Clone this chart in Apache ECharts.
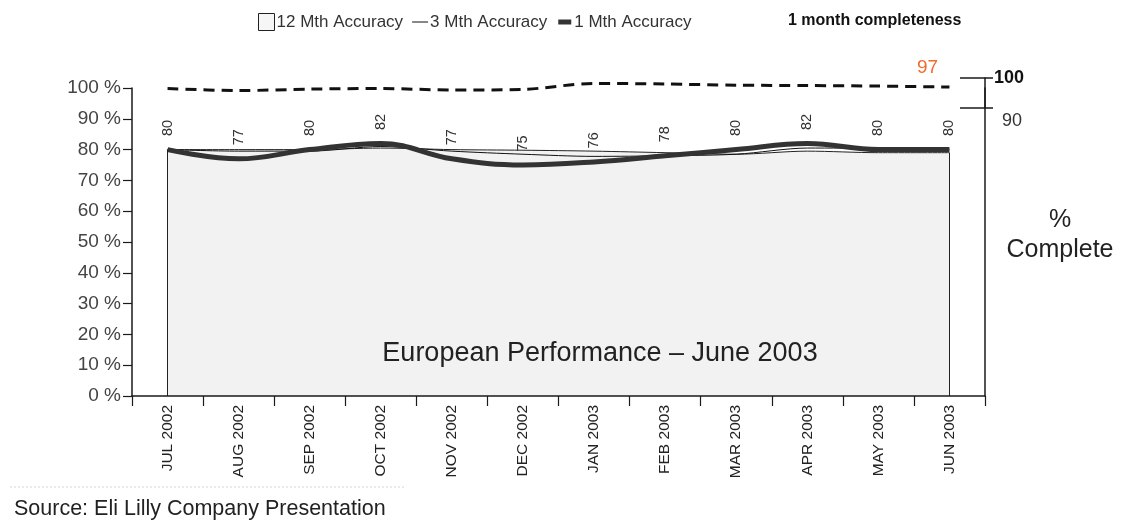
<!DOCTYPE html>
<html>
<head>
<meta charset="utf-8">
<title>European Performance – June 2003</title>
<script src="https://cdn.jsdelivr.net/npm/echarts@6/dist/echarts.min.js"></script>
<style>
  html, body { margin: 0; padding: 0; background: #ffffff; }
  #chart { width: 1121px; height: 520px; }
</style>
</head>
<body>
<div id="chart"></div>
<script>
// Months on the category axis
const months = ['JUL 2002', 'AUG 2002', 'SEP 2002', 'OCT 2002', 'NOV 2002', 'DEC 2002',
                'JAN 2003', 'FEB 2003', 'MAR 2003', 'APR 2003', 'MAY 2003', 'JUN 2003'];

// Forecast accuracy (%) by averaging window
const acc12 = [80, 80, 80, 80.5, 80, 79.8, 79.5, 79, 78.5, 79.5, 79, 79];
const acc3  = [80, 79.5, 79.5, 81, 79.5, 78.5, 77.8, 78, 78.5, 80.5, 80.5, 80];
const acc1  = [80, 77, 80, 82, 77, 75, 76, 78, 80, 82, 80, 80];

// 1 month completeness (%), right-hand scale
const completeness = [96.5, 95.8, 96.3, 96.5, 96, 96.2, 98.2, 98, 97.6, 97.5, 97.3, 97];

// Right-hand scale ticks
const completeTicks = [90, 100];

const FONT = "'Liberation Sans', Arial, sans-serif";
const INK = '#1a1a1a';
const CLEAR = 'rgba(0,0,0,0)';

const lastIdx = months.length - 1;

const chart = echarts.init(document.getElementById('chart'), null, { renderer: 'canvas' });

chart.setOption({
  animation: false,
  backgroundColor: '#ffffff',
  textStyle: { fontFamily: FONT },
  title: [
    {
      text: 'European Performance – June 2003',
      left: 595, top: 335, textAlign: 'center',
      textStyle: { fontFamily: FONT, fontSize: 27, fontWeight: 'normal', color: '#222' }
    },
    {
      text: '%\nComplete',
      left: 1055, top: 200, textAlign: 'center',
      textStyle: { fontFamily: FONT, fontSize: 25, fontWeight: 'normal', color: '#222', lineHeight: 30 }
    },
    {
      text: 'Source: Eli Lilly Company Presentation',
      left: 9, top: 493,
      textStyle: { fontFamily: FONT, fontSize: 21.5, fontWeight: 'normal', color: '#222' }
    }
  ],
  graphic: [
    {
      // faint rule above the source note
      type: 'line', silent: true,
      shape: { x1: 10, y1: 487, x2: 405, y2: 487 },
      style: { stroke: '#d6d6d6', lineWidth: 1, lineDash: [2, 2] }
    }
  ],
  legend: [
    {
      left: 258, top: 13, padding: 0,
      itemWidth: 16, itemHeight: 17, itemGap: 9,
      selectedMode: false,
      textStyle: { fontFamily: FONT, fontSize: 17, color: '#333', padding: [0, 0, 0, -3] },
      data: [
        { name: '12 Mth Accuracy', icon: 'rect',
          itemStyle: { color: '#f6f6f6', borderColor: '#222', borderWidth: 1, opacity: 1 } },
        { name: '3 Mth Accuracy', icon: 'path://M0,0M0,8H16V9H0ZM16,17',
          itemStyle: { color: '#111', borderWidth: 0, opacity: 1 } },
        { name: '1 Mth Accuracy', icon: 'path://M0,0M2,6H15V11H2ZM16,17',
          itemStyle: { color: '#333', borderWidth: 0, opacity: 1 } }
      ]
    },
    {
      left: 783, top: 13, padding: 0,
      itemWidth: 0, itemHeight: 14,
      selectedMode: false,
      textStyle: { fontFamily: FONT, fontSize: 16, fontWeight: 'bold', color: '#111' },
      data: [{ name: '1 month completeness', icon: 'none' }]
    }
  ],
  grid: [
    { left: 132, right: 136, top: 88, bottom: 124 },
    { left: 132, right: 136, top: 78, height: 30 }
  ],
  xAxis: [
    {
      type: 'category', gridIndex: 0, data: months, boundaryGap: true, z: 5,
      axisLine: { show: true, lineStyle: { color: INK, width: 1.5 } },
      axisTick: { show: true, alignWithLabel: false, length: 10, lineStyle: { color: INK, width: 1.2 } },
      axisLabel: { rotate: 90, margin: 9, fontFamily: FONT, fontSize: 15.5, color: '#222' },
      splitLine: { show: false }
    },
    {
      type: 'category', gridIndex: 1, data: months, boundaryGap: true, show: false
    }
  ],
  yAxis: [
    {
      type: 'value', gridIndex: 0, position: 'left', min: 0, max: 100, interval: 10, z: 5,
      axisLine: { show: true, lineStyle: { color: INK, width: 1.5 } },
      axisTick: { show: true, length: 9, lineStyle: { color: INK, width: 1.2 } },
      axisLabel: { formatter: '{value} %', margin: 11, fontFamily: FONT, fontSize: 19, color: '#444' },
      splitLine: { show: false }
    },
    {
      // right-hand frame line spanning the plot height
      type: 'value', gridIndex: 0, position: 'right', min: 0, max: 100, z: 5,
      axisLine: { show: true, lineStyle: { color: INK, width: 1.5 } },
      axisTick: { show: false }, axisLabel: { show: false }, splitLine: { show: false }
    },
    {
      // completeness scale, inner ticks and labels
      type: 'value', gridIndex: 1, position: 'right', min: 90, max: 100, interval: 10, z: 5,
      axisLine: { show: true, lineStyle: { color: INK, width: 1.5 } },
      axisTick: { show: true, inside: true, length: 25, lineStyle: { color: INK, width: 1.5 } },
      axisLabel: {
        margin: 9,
        formatter: function (v) {
          return completeTicks.indexOf(v) < 0 ? '' : (v === 100 ? '{top|' + v + '}' : '{low|' + v + '}');
        },
        rich: {
          top: { fontFamily: FONT, fontSize: 18, fontWeight: 'bold', color: '#111' },
          low: { fontFamily: FONT, fontSize: 18, color: '#333', padding: [27, 0, 0, 8] }
        }
      },
      splitLine: { show: false }
    },
    {
      // completeness scale, outer tick stubs
      type: 'value', gridIndex: 1, position: 'right', min: 90, max: 100, interval: 10, z: 5,
      axisLine: { show: false },
      axisTick: { show: true, inside: false, length: 8, lineStyle: { color: INK, width: 1.5 } },
      axisLabel: { show: false }, splitLine: { show: false }
    }
  ],
  series: [
    {
      name: '12 Mth Accuracy', type: 'line', xAxisIndex: 0, yAxisIndex: 0,
      data: acc12, smooth: 0.3, symbol: 'none', z: 1,
      lineStyle: { color: '#222', width: 1 },
      itemStyle: { color: '#f6f6f6', borderColor: '#222' },
      areaStyle: { color: '#f2f2f2', opacity: 1 },
      markLine: {
        silent: true, symbol: ['none', 'none'], label: { show: false },
        lineStyle: { color: '#222', width: 1, type: 'solid' },
        data: [
          [{ coord: [months[0], 0] }, { coord: [months[0], acc12[0]] }],
          [{ coord: [months[lastIdx], 0] }, { coord: [months[lastIdx], acc12[lastIdx]] }]
        ]
      }
    },
    {
      name: '3 Mth Accuracy', type: 'line', xAxisIndex: 0, yAxisIndex: 0,
      data: acc3, smooth: 0.3, symbol: 'none', z: 2,
      lineStyle: { color: '#111', width: 1 },
      itemStyle: { color: '#111' }
    },
    {
      name: '1 Mth Accuracy', type: 'line', xAxisIndex: 0, yAxisIndex: 0,
      data: acc1, smooth: 0.4, symbol: 'circle', symbolSize: 1, showSymbol: true, z: 3,
      lineStyle: { color: '#333', width: 5 },
      itemStyle: { color: CLEAR, borderWidth: 0 },
      label: {
        show: true, position: 'top', distance: 13, rotate: 90,
        align: 'left', verticalAlign: 'middle',
        fontFamily: FONT, fontSize: 14.5, color: '#333'
      }
    },
    {
      name: '1 month completeness', type: 'line', xAxisIndex: 1, yAxisIndex: 2,
      data: completeness, smooth: 0.3, symbol: 'circle', symbolSize: 1, z: 3,
      lineStyle: { color: '#111', width: 3, type: [11, 7] },
      itemStyle: { color: CLEAR, borderWidth: 0 },
      label: {
        show: true,
        formatter: function (p) { return p.dataIndex === lastIdx ? String(p.value) : ''; },
        position: 'top', distance: 9, offset: [-22, 0],
        fontFamily: FONT, fontSize: 19, color: '#f26a2e'
      }
    }
  ]
});
</script>
</body>
</html>
